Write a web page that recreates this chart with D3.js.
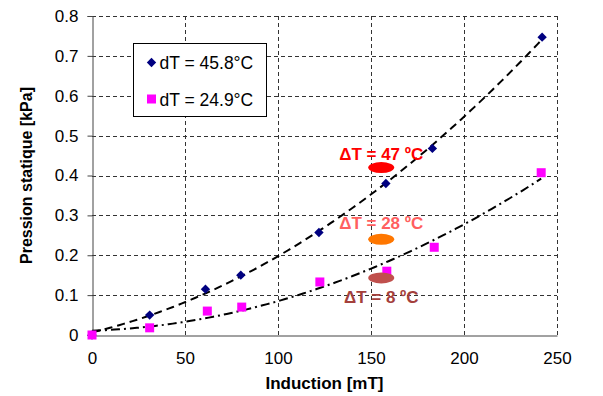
<!DOCTYPE html>
<html>
<head>
<meta charset="utf-8">
<script src="https://cdn.jsdelivr.net/npm/d3@7"></script>
<style>
  body { margin: 0; background: #fff; }
  text { font-family: "Liberation Sans", Arial, sans-serif; }
</style>
</head>
<body>
<div id="chart"></div>
<script>
// induction [mT] and static pressure [kPa]
var inductionHot = [0, 31, 61, 80, 122, 158, 183, 242];
var pressureHot = [0, 0.05, 0.115, 0.15, 0.257, 0.38, 0.468, 0.747];
var inductionCold = [0, 31, 62, 80.5, 122.5, 158.5, 184, 241.5];
var pressureCold = [0, 0.018, 0.06, 0.07, 0.133, 0.16, 0.22, 0.407];
var legendLabels = ['dT = 45.8°C', 'dT = 24.9°C'];
var xTicks = [0, 50, 100, 150, 200, 250];
var yTicks = [0, 0.1, 0.2, 0.3, 0.4, 0.5, 0.6, 0.7, 0.8];
// annotation bubbles: label, x, y of ellipse, y of label
var noteLabels = ['ΔT = 47 ºC', 'ΔT = 28 ºC', 'ΔT = 8 ºC'];
var noteX = [155.5, 155.5, 155.5];
var noteEllipseY = [0.42, 0.24, 0.143];
var noteTextY = [0.455, 0.28, 0.095];
var noteTextColors = ['#ff0000', '#ff5f5f', '#a4403c'];
var noteFillColors = ['#ff0000', '#ff7700', '#c0504d'];

var width = 603, height = 396;
var margin = {left: 92, right: 46, top: 16, bottom: 61};

var svg = d3.select('#chart').append('svg')
  .attr('width', width)
  .attr('height', height);

svg.append('rect').attr('width', width).attr('height', height).attr('fill', '#fff');

var x = d3.scaleLinear().domain([0, 250]).range([margin.left, width - margin.right]);
var y = d3.scaleLinear().domain([0, 0.8]).range([height - margin.bottom, margin.top]);

//grid
svg.append('g').selectAll('line.hgrid')
  .data(yTicks.slice(1)).enter().append('line')
  .attr('x1', x(0)).attr('x2', x(250))
  .attr('y1', function(d){ return Math.round(y(d)) + 0.5; })
  .attr('y2', function(d){ return Math.round(y(d)) + 0.5; })
  .attr('stroke', '#333').attr('stroke-dasharray', '4,3');
svg.append('g').selectAll('line.vgrid')
  .data(xTicks.slice(1)).enter().append('line')
  .attr('y1', y(0)).attr('y2', y(0.8))
  .attr('x1', function(d){ return Math.round(x(d)) + 0.5; })
  .attr('x2', function(d){ return Math.round(x(d)) + 0.5; })
  .attr('stroke', '#333').attr('stroke-dasharray', '4,3');

//axes
var xAxis = svg.append('g')
  .attr('transform', 'translate(0,' + (Math.round(y(0)) + 0.5) + ')')
  .call(d3.axisBottom(x).tickValues(xTicks).tickSize(0).tickPadding(16).tickFormat(d3.format('d')));
var yAxis = svg.append('g')
  .attr('transform', 'translate(' + (Math.round(x(0)) + 0.5) + ',0)')
  .call(d3.axisLeft(y).tickValues(yTicks).tickSize(5).tickPadding(9).tickFormat(function(d){ return d === 0 ? '0' : d3.format('.1f')(d); }));
[xAxis, yAxis].forEach(function(a){
  a.select('.domain').attr('stroke', '#444');
  a.selectAll('.tick line').attr('stroke', '#444');
  a.selectAll('text').attr('font-size', 17).attr('fill', '#000')
    .attr('font-family', '"Liberation Sans", Arial, sans-serif');
});

svg.append('text')
  .attr('x', (x(0) + x(250)) / 2).attr('y', 389)
  .attr('text-anchor', 'middle').attr('font-size', 17).attr('font-weight', 'bold')
  .text('Induction [mT]');
svg.append('text')
  .attr('transform', 'translate(32,' + ((y(0) + y(0.8)) / 2) + ') rotate(-90)')
  .attr('text-anchor', 'middle').attr('font-size', 16).attr('font-weight', 'bold')
  .text('Pression statique [kPa]');

//polynomial (order 2) trend lines like excel
function polyFit(xs, ys) {
  var s = [0, 0, 0, 0, 0], t = [0, 0, 0];
  xs.forEach(function(xv, i){
    for (var k = 0; k < 5; k++) s[k] += Math.pow(xv, k);
    for (var k = 0; k < 3; k++) t[k] += ys[i] * Math.pow(xv, k);
  });
  var m = [[s[0], s[1], s[2], t[0]], [s[1], s[2], s[3], t[1]], [s[2], s[3], s[4], t[2]]];
  for (var c = 0; c < 3; c++) {
    for (var r = c + 1; r < 3; r++) {
      var f = m[r][c] / m[c][c];
      for (var k = c; k < 4; k++) m[r][k] -= f * m[c][k];
    }
  }
  var coef = [0, 0, 0];
  for (var r = 2; r >= 0; r--) {
    var v = m[r][3];
    for (var k = r + 1; k < 3; k++) v -= m[r][k] * coef[k];
    coef[r] = v / m[r][r];
  }
  return function(xv){ return coef[0] + coef[1] * xv + coef[2] * xv * xv; };
}

function trend(xs, ys, dash) {
  var f = polyFit(xs, ys);
  var pts = d3.range(0, 101).map(function(i){
    var xv = d3.max(xs) * i / 100;
    return [xv, f(xv)];
  });
  svg.append('path')
    .datum(pts)
    .attr('d', d3.line().x(function(d){ return x(d[0]); }).y(function(d){ return y(d[1]); }))
    .attr('fill', 'none').attr('stroke', '#000').attr('stroke-width', 2)
    .attr('stroke-dasharray', dash);
}
trend(inductionHot, pressureHot, '8,5');
trend(inductionCold, pressureCold, '9,4,2,4');

//markers
var diamond = d3.symbol().type(d3.symbolDiamond2).size(56);
svg.append('g').selectAll('path')
  .data(inductionHot).enter().append('path')
  .attr('d', diamond)
  .attr('transform', function(d, i){ return 'translate(' + x(d) + ',' + y(pressureHot[i]) + ')'; })
  .attr('fill', '#000080');
svg.append('g').selectAll('rect')
  .data(inductionCold).enter().append('rect')
  .attr('x', function(d){ return x(d) - 4.5; })
  .attr('y', function(d, i){ return y(pressureCold[i]) - 4.5; })
  .attr('width', 9).attr('height', 9)
  .attr('fill', '#ff00ff');

//annotations
noteLabels.forEach(function(lbl, i){
  svg.append('ellipse')
    .attr('cx', x(noteX[i])).attr('cy', y(noteEllipseY[i]))
    .attr('rx', 13).attr('ry', 5.5)
    .attr('fill', noteFillColors[i]);
  svg.append('text')
    .attr('x', x(noteX[i])).attr('y', y(noteTextY[i]))
    .attr('dy', '0.35em')
    .attr('text-anchor', 'middle').attr('font-size', 17).attr('font-weight', 'bold')
    .attr('fill', noteTextColors[i])
    .text(lbl);
});

//legend
var legend = svg.append('g').attr('transform', 'translate(133.5,43.5)');
legend.append('rect').attr('width', 133).attr('height', 73)
  .attr('fill', '#fff').attr('stroke', '#000');
legend.append('path').attr('d', diamond).attr('transform', 'translate(18,19)').attr('fill', '#000080');
legend.append('rect').attr('x', 13.5).attr('y', 51).attr('width', 9).attr('height', 9).attr('fill', '#ff00ff');
legend.selectAll('text.leg')
  .data(legendLabels).enter().append('text')
  .attr('x', 26).attr('y', function(d, i){ return 19 + i * 37; })
  .attr('dy', '0.35em').attr('font-size', 17.5)
  .text(function(d){ return d; });
</script>
</body>
</html>
